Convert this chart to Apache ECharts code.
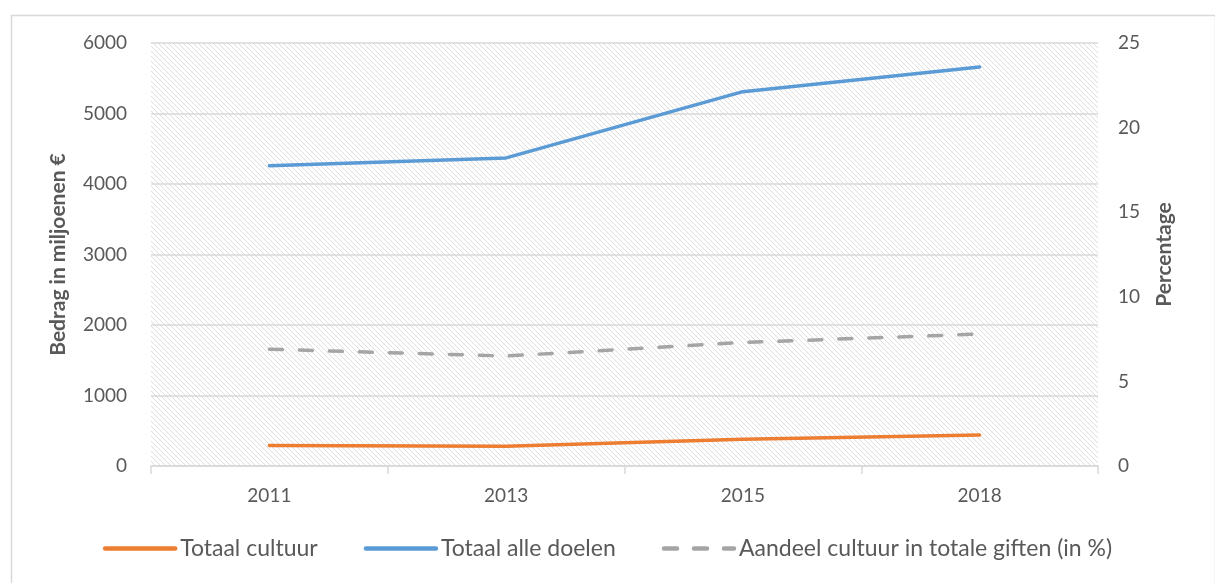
<!DOCTYPE html>
<html>
<head>
<meta charset="utf-8">
<script src="https://cdn.jsdelivr.net/npm/echarts@6/dist/echarts.min.js"></script>
<style>
  html, body { margin: 0; padding: 0; background: #fff; }
  #main { width: 1215px; height: 583px; }
</style>
</head>
<body>
<div id="main"></div>
<script>
var years = ['2011', '2013', '2015', '2018'];
var totaalCultuur = [290, 280, 380, 440];
var totaalAlleDoelen = [4260, 4370, 5310, 5660];
var aandeelCultuur = [6.9, 6.5, 7.3, 7.8];

// hatch tile for the plot area
function hatch() {
  var n = 5, c = document.createElement('canvas');
  c.width = n; c.height = n;
  var ctx = c.getContext('2d');
  ctx.fillStyle = '#ffffff';
  ctx.fillRect(0, 0, n, n);
  ctx.strokeStyle = '#dedede';
  ctx.lineWidth = 1;
  ctx.beginPath();
  ctx.moveTo(-1, -1); ctx.lineTo(n + 1, n + 1);
  ctx.moveTo(-1, n - 1); ctx.lineTo(1, n + 1);
  ctx.moveTo(n - 1, -1); ctx.lineTo(n + 1, 1);
  ctx.stroke();
  return c;
}

var font = 'Lato';
var chart = echarts.init(document.getElementById('main'));

var option = {
  animation: false,
  backgroundColor: '#fff',
  textStyle: { fontFamily: font },
  graphic: [{
    type: 'rect',
    left: 9, top: 13,
    shape: { width: 1204, height: 620 },
    style: { fill: 'none', stroke: '#d9d9d9', lineWidth: 1.5 },
    z: -10
  }],
  grid: {
    left: 151, right: 117, top: 43, bottom: 117,
    show: true,
    borderWidth: 0,
    backgroundColor: { image: hatch(), repeat: 'repeat' }
  },
  legend: {
    bottom: 18,
    left: 'center',
    itemWidth: 70,
    itemHeight: 12,
    itemGap: 46,
    itemStyle: { opacity: 0 },
    lineStyle: { width: 4.5, cap: 'round' },
    textStyle: { fontFamily: font, fontSize: 23, color: '#595959' },
    data: ['Totaal cultuur', 'Totaal alle doelen', 'Aandeel cultuur in totale giften (in %)']
  },
  xAxis: {
    type: 'category',
    data: years,
    boundaryGap: true,
    axisLine: { lineStyle: { color: '#d9d9d9', width: 1.5 } },
    axisTick: { show: true, length: 8, lineStyle: { color: '#d9d9d9', width: 1.5 } },
    axisLabel: { color: '#595959', fontSize: 19, margin: 20, fontFamily: font }
  },
  yAxis: [{
    type: 'value',
    min: 0, max: 6000, interval: 1000,
    name: 'Bedrag in miljoenen €',
    nameLocation: 'middle',
    nameGap: 82,
    nameRotate: 90,
    nameTextStyle: { color: '#595959', fontSize: 21, fontWeight: 'bold', fontFamily: font },
    axisLine: { show: false },
    axisTick: { show: false },
    axisLabel: { color: '#595959', fontSize: 19, margin: 24, fontFamily: font, formatter: function (v) { return String(v); } },
    splitLine: { lineStyle: { color: '#d9d9d9', width: 1.5 } }
  }, {
    type: 'value',
    min: 0, max: 25, interval: 5,
    name: 'Percentage',
    nameLocation: 'middle',
    nameGap: 56,
    nameRotate: 90,
    nameTextStyle: { color: '#595959', fontSize: 21, fontWeight: 'bold', fontFamily: font },
    axisLine: { show: false },
    axisTick: { show: false },
    axisLabel: { color: '#595959', fontSize: 19, margin: 20, fontFamily: font },
    splitLine: { show: false }
  }],
  series: [{
    name: 'Totaal cultuur',
    type: 'line',
    data: totaalCultuur,
    symbol: 'none',
    color: '#ED7D31',
    lineStyle: { width: 3.5, cap: 'round', color: '#ED7D31' }
  }, {
    name: 'Totaal alle doelen',
    type: 'line',
    data: totaalAlleDoelen,
    symbol: 'none',
    color: '#5B9BD5',
    lineStyle: { width: 3.5, cap: 'round', color: '#5B9BD5' }
  }, {
    name: 'Aandeel cultuur in totale giften (in %)',
    type: 'line',
    yAxisIndex: 1,
    data: aandeelCultuur,
    symbol: 'none',
    color: '#A5A5A5',
    lineStyle: { width: 3.5, cap: 'round', color: '#A5A5A5', type: [13, 17] }
  }]
};

chart.setOption(option);
</script>
</body>
</html>
